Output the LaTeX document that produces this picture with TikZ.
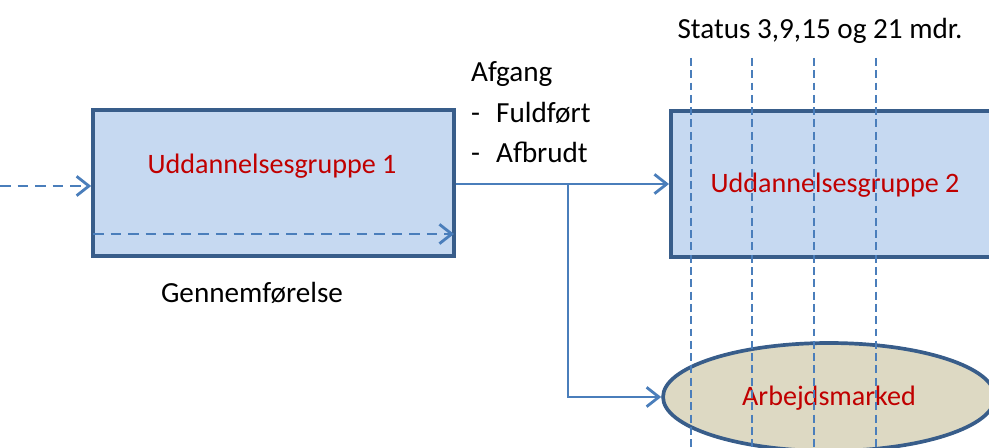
\documentclass[tikz,border=0pt]{standalone}
\usepackage{fontspec}
\setmainfont{Carlito}
\usetikzlibrary{arrows.meta,shapes.geometric}

\definecolor{boxblue}{HTML}{C6D9F1}
\definecolor{edgeblue}{HTML}{385D8A}
\definecolor{lineblue}{HTML}{4A7EBB}
\definecolor{sand}{HTML}{DDD9C3}
\definecolor{txtred}{HTML}{C00000}

\tikzset{
	gruppe/.style={draw=edgeblue, fill=boxblue, line width=2.1pt, inner sep=0pt},
	marked/.style={ellipse, draw=edgeblue, fill=sand, line width=2.1pt, inner sep=0pt,
		minimum width=6.64cm, minimum height=2.16cm},
	flow/.style={draw=lineblue, line width=1.6pt, -{Straight Barb[length=7pt,width=11pt]}},
	redtxt/.style={text=txtred, font=\fontsize{16}{19}\selectfont},
	blacktxt/.style={font=\fontsize{16.6}{19}\selectfont},
	statusline/.style={draw=lineblue, line width=0.8pt, dash pattern=on 4.5pt off 2.5pt}
}

\begin{document}
\begin{tikzpicture}[x=0.02cm, y=-0.02cm]
	\clip (0,0) rectangle (989,448);
	
	% boxes
	\node[gruppe, minimum width=7.22cm, minimum height=2.92cm] (grp1) at (273.5,183) {};
	\node[redtxt] (grp1txt) at (272,166) {Uddannelsesgruppe 1};
	
	\node[gruppe, minimum width=6.9cm, minimum height=2.92cm, anchor=west] (grp2) at (669,184) {};
	\node[redtxt] (grp2txt) at (835,185) {Uddannelsesgruppe 2};
	
	\node[marked] (arb) at (829,397) {};
	\node[redtxt] (arbtxt) at (829,398) {Arbejdsmarked};
	
	% labels
	\node[blacktxt, anchor=west] (afgang) at (465,74) {Afgang};
	\node[blacktxt, anchor=west] (fuld) at (465,113) {\makebox[0.5cm][l]{-}Fuldført};
	\node[blacktxt, anchor=west] (afbr) at (465,152) {\makebox[0.5cm][l]{-}Afbrudt};
	\node[blacktxt] (gennem) at (252,293) {Gennemførelse};
	\node[blacktxt] (status) at (820,31) {Status 3,9,15 og 21 mdr.};
	
	% dashed arrows
	\coordinate (ind) at (0,186);
	\coordinate (gstart) at (93,234);
	\coordinate (gend) at (454,234);
	\draw[flow, dash pattern=on 6pt off 4pt] (ind) -- (grp1.west |- ind);
	\draw[flow, dash pattern=on 6pt off 4pt] (gstart) -- (gend);
	
	% afgang
	\coordinate (knee) at (568,184);
	\draw[flow] (grp1.east |- knee) -- (grp2.west |- knee);
	\draw[flow] (knee) |- (arb.west);
	
	% status lines
	\foreach \xpos in {691,752,814,876}
	{
	\draw[statusline] (\xpos,58) -- (\xpos,448);
	}
\end{tikzpicture}
\end{document}
